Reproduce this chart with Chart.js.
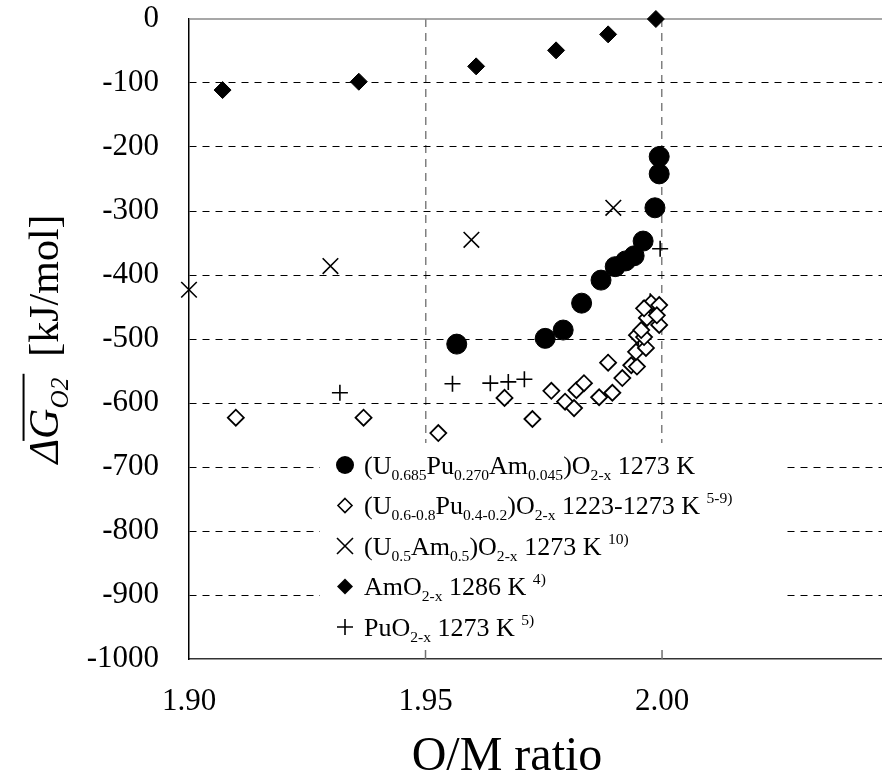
<!DOCTYPE html>
<html>
<head>
<meta charset="utf-8">
<script src="https://cdn.jsdelivr.net/npm/chart.js@4/dist/chart.umd.min.js"></script>
<style>
  html, body { margin: 0; padding: 0; background: #fff; }
</style>
</head>
<body>
<canvas id="chart" width="882" height="782"></canvas>
<script>
const xTicks = [1.90, 1.95, 2.00];
const yTicks = [0, -100, -200, -300, -400, -500, -600, -700, -800, -900, -1000];

// (U0.685Pu0.270Am0.045)O2-x 1273 K
const upaX = [1.9566, 1.9753, 1.9791, 1.9830, 1.9871, 1.9901, 1.9923, 1.9941, 1.9960, 1.9985, 1.9994, 1.9994];
const upaY = [-508, -499, -486, -444, -408, -387, -378, -370, -347, -295, -242, -215];

// (U0.6-0.8Pu0.4-0.2)O2-x 1223-1273 K
const upX = [1.9099, 1.9369, 1.9527, 1.9667, 1.9726, 1.9766, 1.9795, 1.9814, 1.9819, 1.9835, 1.9867, 1.9895,
             1.9886, 1.9916, 1.9935, 1.9947, 1.9945, 1.9966, 1.9947, 1.9962, 1.9956, 1.9968, 1.9994, 1.9977,
             1.9994, 1.9989, 1.9962];
const upY = [-623, -623, -647, -592, -625, -581, -598, -608, -580, -569, -591, -584,
             -537, -561, -541, -543, -520, -514, -494, -497, -486, -467, -478, -444,
             -447, -463, -452];

// (U0.5Am0.5)O2-x 1273 K
const uamX = [1.9000, 1.9299, 1.9597, 1.9897];
const uamY = [-423, -386, -345, -295];

// AmO2-x 1286 K
const amX = [1.9071, 1.9359, 1.9607, 1.9776, 1.9886, 1.9987];
const amY = [-111, -98, -74, -49, -24, 0];

// PuO2-x 1273 K
const puX = [1.9319, 1.9557, 1.9637, 1.9675, 1.9709, 1.9886, 1.9950, 1.9975, 1.9996];
const puY = [-584, -570, -569, -567, -563, -536, -497, -441, -359];

const FONT = '"Liberation Serif", "Times New Roman", serif';
const pts = (xs, ys) => xs.map((x, i) => ({ x, y: ys[i] }));

// legend rows: marker + rich text parts [text, kind]
const legendRows = [
  { style: 'circle', parts: [['(U', 'n'], ['0.685', 'sub'], ['Pu', 'n'], ['0.270', 'sub'], ['Am', 'n'], ['0.045', 'sub'], [')O', 'n'], ['2-x', 'sub'], [' 1273 K', 'n']] },
  { style: 'openDiamond', parts: [['(U', 'n'], ['0.6-0.8', 'sub'], ['Pu', 'n'], ['0.4-0.2', 'sub'], [')O', 'n'], ['2-x', 'sub'], [' 1223-1273 K ', 'n'], ['5-9)', 'sup']] },
  { style: 'x', parts: [['(U', 'n'], ['0.5', 'sub'], ['Am', 'n'], ['0.5', 'sub'], [')O', 'n'], ['2-x', 'sub'], [' 1273 K ', 'n'], ['10)', 'sup']] },
  { style: 'diamond', parts: [['AmO', 'n'], ['2-x', 'sub'], [' 1286 K ', 'n'], ['4)', 'sup']] },
  { style: 'plus', parts: [['PuO', 'n'], ['2-x', 'sub'], [' 1273 K ', 'n'], ['5)', 'sup']] },
];

function drawRich(ctx, parts, x, y, size) {
  let cx = x;
  for (const [t, k] of parts) {
    const italic = k[0] === 'i';
    const small = k.endsWith('sub') || k === 'sup';
    const fs = small ? size * 0.6 : size;
    ctx.font = `${italic ? 'italic ' : ''}${fs}px ${FONT}`;
    const dy = k.endsWith('sub') ? size * 0.24 : (k === 'sup' ? -size * 0.42 : 0);
    ctx.fillText(t, cx, y + dy);
    cx += ctx.measureText(t).width;
  }
  return cx;
}

function drawMarker(ctx, style, x, y) {
  ctx.save();
  ctx.strokeStyle = '#000';
  ctx.fillStyle = '#000';
  ctx.lineWidth = 1.6;
  ctx.beginPath();
  if (style === 'circle') {
    ctx.arc(x, y, 9, 0, Math.PI * 2);
    ctx.fill();
  } else if (style === 'diamond' || style === 'openDiamond') {
    const r = style === 'diamond' ? 8 : 7;
    ctx.moveTo(x, y - r); ctx.lineTo(x + r, y); ctx.lineTo(x, y + r); ctx.lineTo(x - r, y); ctx.closePath();
    if (style === 'diamond') ctx.fill(); else ctx.stroke();
  } else if (style === 'x') {
    const r = 8;
    ctx.moveTo(x - r, y - r); ctx.lineTo(x + r, y + r);
    ctx.moveTo(x + r, y - r); ctx.lineTo(x - r, y + r);
    ctx.stroke();
  } else if (style === 'plus') {
    const r = 8;
    ctx.moveTo(x - r, y); ctx.lineTo(x + r, y);
    ctx.moveTo(x, y - r); ctx.lineTo(x, y + r);
    ctx.stroke();
  }
  ctx.restore();
}

const decorations = {
  id: 'decorations',
  beforeDatasetsDraw(chart) {
    const { ctx, chartArea: a, scales } = chart;
    ctx.save();
    // top frame line
    ctx.strokeStyle = '#8a8a8a';
    ctx.lineWidth = 1.5;
    ctx.beginPath();
    ctx.moveTo(a.left, a.top);
    ctx.lineTo(a.right, a.top);
    ctx.stroke();
    // legend box (white, hides the grid behind it)
    ctx.fillStyle = '#fff';
    ctx.fillRect(320, 443, 463, a.bottom - 443 - 1);
    // short inward tick marks on the bottom axis
    ctx.strokeStyle = '#707070';
    ctx.beginPath();
    xTicks.slice(1).forEach((v) => {
      const px = scales.x.getPixelForValue(v);
      ctx.moveTo(px, a.bottom);
      ctx.lineTo(px, a.bottom - 9);
    });
    ctx.stroke();
    ctx.restore();
  },
  afterDraw(chart) {
    const { ctx, chartArea: a } = chart;
    ctx.save();
    ctx.fillStyle = '#000';
    ctx.textBaseline = 'alphabetic';

    // legend
    const size = 26;
    legendRows.forEach((row, i) => {
      const cy = 465 + i * 40.5;
      drawMarker(ctx, row.style, 345, cy);
      drawRich(ctx, row.parts, 364, cy + size * 0.33, size);
    });

    // x axis title
    ctx.font = `48px ${FONT}`;
    ctx.textAlign = 'center';
    ctx.fillText('O/M ratio', 507, 770);
    ctx.textAlign = 'left';

    // y axis title, rotated
    const ts = 42;
    ctx.translate(44, (a.top + a.bottom) / 2);
    ctx.rotate(-Math.PI / 2);
    const titleParts = [['\u0394', 'i'], ['G', 'i'], ['O2', 'isub'], ['  [kJ/mol]', 'n']];
    let w = 0;
    for (const [t, k] of titleParts) {
      ctx.font = `${k[0] === 'i' ? 'italic ' : ''}${k.endsWith('sub') ? ts * 0.6 : ts}px ${FONT}`;
      w += ctx.measureText(t).width;
    }
    const x0 = -w / 2;
    ctx.font = `italic ${ts}px ${FONT}`;
    const gStart = x0 + ctx.measureText('\u0394').width;
    const gEnd = gStart + ctx.measureText('G').width;
    ctx.font = `italic ${ts * 0.6}px ${FONT}`;
    const oEnd = gEnd + ctx.measureText('O2').width;
    drawRich(ctx, titleParts, x0, 14, ts);
    ctx.lineWidth = 2;
    ctx.beginPath();
    ctx.moveTo(gStart - 2, 14 - ts * 0.82);
    ctx.lineTo(oEnd + 4, 14 - ts * 0.82);
    ctx.stroke();
    ctx.restore();
  }
};

new Chart(document.getElementById('chart'), {
  type: 'scatter',
  data: {
    datasets: [
      { label: 'UPuAm', data: pts(upaX, upaY), pointStyle: 'circle', pointRadius: 10, backgroundColor: '#000', borderColor: '#000', clip: false },
      { label: 'UPu', data: pts(upX, upY), pointStyle: 'rectRot', pointRadius: 8, backgroundColor: '#fff', borderColor: '#000', borderWidth: 1.8, clip: false },
      { label: 'UAm', data: pts(uamX, uamY), pointStyle: 'crossRot', pointRadius: 11, borderColor: '#000', borderWidth: 1.6, clip: false },
      { label: 'AmO2', data: pts(amX, amY), pointStyle: 'rectRot', pointRadius: 8.5, backgroundColor: '#000', borderColor: '#000', clip: false },
      { label: 'PuO2', data: pts(puX, puY), pointStyle: 'cross', pointRadius: 8, borderColor: '#000', borderWidth: 1.6, clip: false },
    ],
  },
  options: {
    responsive: false,
    animation: false,
    events: [],
    layout: { autoPadding: false, padding: { top: 19, right: 0, left: 0, bottom: 0 } },
    plugins: { legend: { display: false }, tooltip: { enabled: false } },
    scales: {
      x: {
        type: 'linear',
        min: 1.90,
        max: 2.0465,
        afterBuildTicks: (s) => { s.ticks = xTicks.map((v) => ({ value: v })); },
        afterFit: (s) => { s.height = 123; s.paddingLeft = 0; s.paddingRight = 0; },
        ticks: { color: '#000', font: { family: FONT, size: 31 }, padding: 24, maxRotation: 0, callback: (v) => Number(v).toFixed(2) },
        grid: {
          drawTicks: false,
          lineWidth: 1.5,
          color: (c) => (c.tick && Math.abs(c.tick.value - 1.90) < 1e-9 ? 'rgba(0,0,0,0)' : '#808080'),
        },
        border: { display: true, color: '#333', width: 1.5, dash: [8, 6] },
      },
      y: {
        type: 'linear',
        min: -1000,
        max: 0,
        afterBuildTicks: (s) => { s.ticks = [...yTicks].sort((p, q) => p - q).map((v) => ({ value: v })); },
        afterFit: (s) => { s.width = 189; s.paddingTop = 0; s.paddingBottom = 0; },
        ticks: { color: '#000', font: { family: FONT, size: 31 }, padding: 30, callback: (v) => String(v) },
        grid: {
          drawTicks: false,
          lineWidth: 1,
          color: (c) => (c.tick && (c.tick.value === 0 || c.tick.value === -1000) ? 'rgba(0,0,0,0)' : '#000'),
        },
        border: { display: true, color: '#000', width: 1.5, dash: [7, 6] },
      },
    },
  },
  plugins: [decorations],
});
</script>
</body>
</html>
